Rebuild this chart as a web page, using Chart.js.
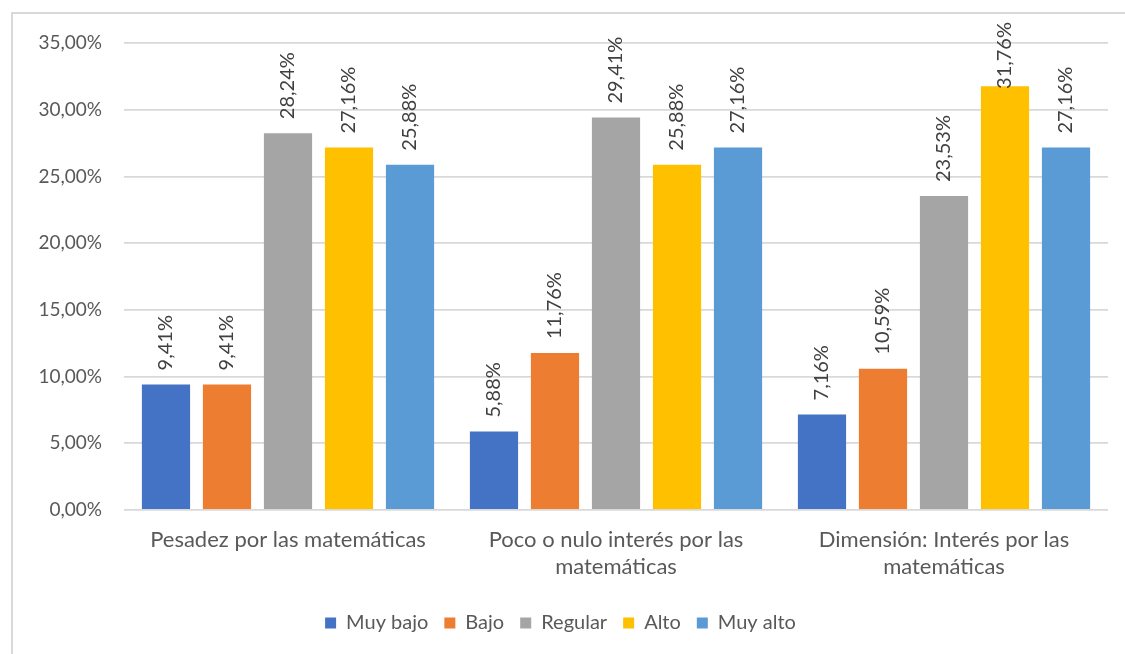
<!DOCTYPE html>
<html>
<head>
<meta charset="utf-8">
<script src="https://cdn.jsdelivr.net/npm/chart.js@4"></script>
<style>
  html, body { margin: 0; padding: 0; background: #fff; overflow: hidden; }
  .frame { position: absolute; left: 11px; top: 12px; width: 1200px; height: 700px;
           border-left: 2px solid #d9d9d9; border-top: 2px solid #d9d9d9; }
  .chart-container { position: absolute; left: 0; top: 0; width: 1125px; height: 654px; }
</style>
</head>
<body>
<div class="frame"></div>
<div class="chart-container">
  <canvas id="myChart"></canvas>
</div>
<script>
// Categories and series values (percent)
const categories = [
  'Pesadez por las matemáticas',
  ['Poco o nulo interés por las', 'matemáticas'],
  ['Dimensión: Interés por las', 'matemáticas'],
];
const seriesNames = ['Muy bajo', 'Bajo', 'Regular', 'Alto', 'Muy alto'];
const muyBajo = [9.41, 5.88, 7.16];
const bajo = [9.41, 11.76, 10.59];
const regular = [28.24, 29.41, 23.53];
const alto = [27.16, 25.88, 31.76];
const muyAlto = [25.88, 27.16, 27.16];
const yTicks = [0, 5, 10, 15, 20, 25, 30, 35];

const colors = ['#4472C4', '#ED7D31', '#A5A5A5', '#FFC000', '#5B9BD5'];
const fontFamily = 'Lato, "Liberation Sans", sans-serif';

const fmt = (v) => v.toFixed(2).replace('.', ',') + '%';

// Rotated value labels above each bar
const valueLabels = {
  id: 'valueLabels',
  afterDatasetsDraw(chart) {
    const ctx = chart.ctx;
    ctx.save();
    ctx.font = '20px ' + fontFamily;
    ctx.fillStyle = '#404040';
    ctx.textAlign = 'left';
    ctx.textBaseline = 'middle';
    chart.data.datasets.forEach((ds, i) => {
      const meta = chart.getDatasetMeta(i);
      meta.data.forEach((bar, j) => {
        const text = fmt(ds.data[j]);
        const w = ctx.measureText(text).width;
        let bottom = bar.y - 14;
        if (bottom - w < 22) bottom = 22 + w;
        ctx.save();
        ctx.translate(bar.x, bottom);
        ctx.rotate(-Math.PI / 2);
        ctx.fillText(text, 0, 0);
        ctx.restore();
      });
    });
    ctx.restore();
  },
};

const values = [muyBajo, bajo, regular, alto, muyAlto];

const chartData = {
  labels: categories,
  datasets: seriesNames.map((name, i) => ({
    label: name,
    data: values[i],
    backgroundColor: colors[i],
    borderWidth: 0,
    categoryPercentage: 0.93,
    barPercentage: 0.79,
  })),
};

const options = {
  responsive: true,
  maintainAspectRatio: false,
  animation: false,
  layout: { padding: { left: 13, right: 17, top: 43, bottom: 11 } },
  plugins: {
    tooltip: { enabled: false },
    legend: {
      position: 'bottom',
      labels: {
        color: '#595959',
        font: { family: fontFamily, size: 20 },
        boxWidth: 11,
        boxHeight: 11,
        padding: 16,
      },
    },
  },
  scales: {
    x: {
      grid: { display: false },
      border: { display: false },
      ticks: {
        color: '#595959',
        font: { family: fontFamily, size: 22 },
        padding: 9,
        maxRotation: 0,
        autoSkip: false,
      },
      afterFit(scale) { scale.height = 87; },
    },
    y: {
      min: 0,
      max: 35,
      afterBuildTicks(scale) { scale.ticks = yTicks.map((v) => ({ value: v })); },
      grid: { color: '#d9d9d9', lineWidth: 1.8, drawTicks: false },
      border: { display: false },
      ticks: {
        color: '#595959',
        font: { family: fontFamily, size: 19 },
        padding: 22,
        callback: (v) => fmt(v),
      },
      afterFit(scale) { scale.width = 111; },
    },
  },
};

const myChart = new Chart(document.getElementById('myChart'), {
  type: 'bar',
  data: chartData,
  options: options,
  plugins: [valueLabels],
});
</script>
</body>
</html>
